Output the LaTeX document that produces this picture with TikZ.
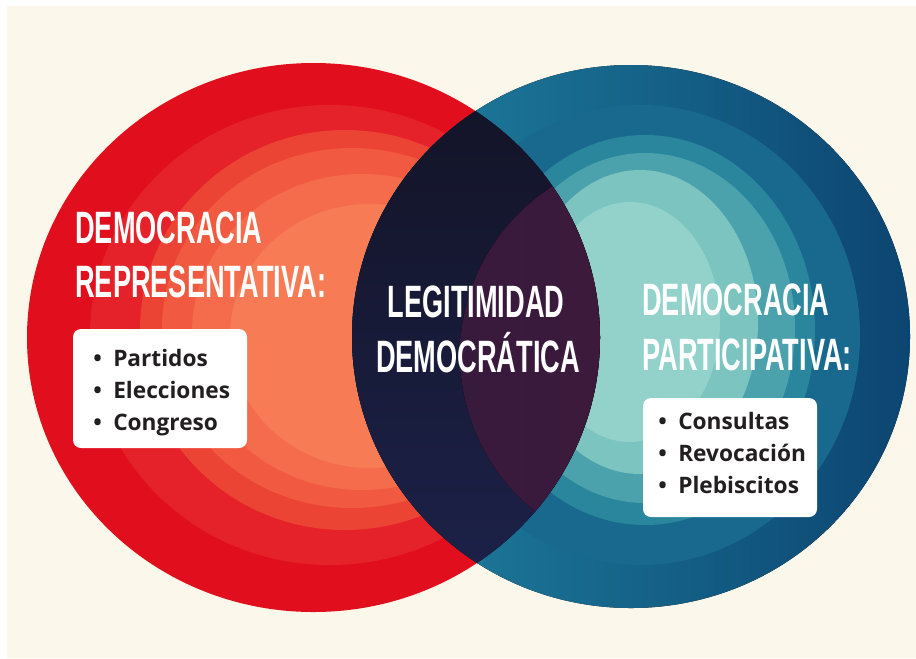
\documentclass[tikz,border=0pt]{standalone}
\usepackage{fontspec}
\newfontfamily\titlefont[FakeStretch=0.6]{Liberation Sans}
\newfontfamily\listfont{Open Sans}
\definecolor{cream}{HTML}{FBF7EA}
\definecolor{rA}{HTML}{E10F1D}
\definecolor{rB}{HTML}{E5222A}
\definecolor{rC}{HTML}{EC4434}
\definecolor{rD}{HTML}{F15A40}
\definecolor{rE}{HTML}{F46C4C}
\definecolor{rF}{HTML}{F77C56}
\definecolor{bL}{HTML}{1F82A0}
\definecolor{bR}{HTML}{0C4571}
\definecolor{bB}{HTML}{19698F}
\definecolor{bC}{HTML}{2A869C}
\definecolor{bD}{HTML}{4BA1AC}
\definecolor{bE}{HTML}{7CC4BF}
\definecolor{bF}{HTML}{92D2CA}
\definecolor{lensT}{HTML}{131428}
\definecolor{lensB}{HTML}{1C2148}
\definecolor{plumL}{HTML}{381A3D}
\definecolor{plumR}{HTML}{42193A}
\definecolor{textdark}{HTML}{231F20}
\begin{document}
\begin{tikzpicture}[x=0.75pt,y=-0.75pt,
  title/.style={font=\titlefont\bfseries\fontsize{34}{34}\selectfont, text=white, inner sep=0},
  item/.style={font=\listfont\bfseries\fontsize{17}{17}\selectfont, text=textdark, inner sep=0, anchor=base west},
  listbox/.style={fill=white, rounded corners=6}]
\useasboundingbox (0,0) rectangle (916,658);
\fill[white] (0,0) rectangle (916,658);
\fill[cream] (7,6) rectangle (916,658);
% red circle and its layers
\fill[rA] (313.5,337.5) ellipse [x radius=286.5, y radius=274.5];
\fill[rB] (330,335) ellipse [x radius=240, y radius=230];
\fill[rC] (345,330) ellipse [x radius=205, y radius=200];
\fill[rD] (352,328) ellipse [x radius=190, y radius=180];
\fill[rE] (362,332) ellipse [x radius=170, y radius=158];
\fill[rF] (370,336) ellipse [x radius=140, y radius=132];
% blue circle and its layers
\fill[left color=bL, right color=bR] (631,336.5) ellipse [x radius=279, y radius=271.5];
\fill[bB] (640,335) ellipse [x radius=220, y radius=230];
\fill[bC] (645,330) ellipse [x radius=170, y radius=195];
\fill[bD] (645,328) ellipse [x radius=150, y radius=175];
\fill[bE] (640,322) ellipse [x radius=118, y radius=152];
\fill[bF] (630,322) ellipse [x radius=90, y radius=120];
% lens
\begin{scope}
  \clip (313.5,337.5) ellipse [x radius=286.5, y radius=274.5];
  \clip (631,336.5) ellipse [x radius=279, y radius=271.5];
  \fill[top color=lensT, bottom color=lensB] (340,100) rectangle (610,575);
  \fill[left color=plumL, right color=plumR] (660,355) circle [radius=200];
\end{scope}
% titles
\node[title, anchor=base west] (lt1) at (75,243) {DEMOCRACIA};
\node[title, anchor=base west] (lt2) at (75,297) {REPRESENTATIVA:};
\node[title, anchor=base] (ct1) at (476,317) {LEGITIMIDAD};
\node[title, anchor=base] (ct2) at (478,372) {DEMOCRÁTICA};
\node[title, anchor=base west] (rt1) at (642,315) {DEMOCRACIA};
\node[title, anchor=base west] (rt2) at (642,370) {PARTICIPATIVA:};
% lists
\path[listbox] (73,329) rectangle (247,448);
\node[item] (l1) at (93,366) {\makebox[15pt][l]{•}Partidos};
\node[item] (l2) at (93,398) {\makebox[15pt][l]{•}Elecciones};
\node[item] (l3) at (93,430) {\makebox[15pt][l]{•}Congreso};
\path[listbox] (643,398) rectangle (817,517);
\node[item] (r1) at (658,429) {\makebox[15pt][l]{•}Consultas};
\node[item] (r2) at (658,461) {\makebox[15pt][l]{•}Revocación};
\node[item] (r3) at (658,493) {\makebox[15pt][l]{•}Plebiscitos};
\end{tikzpicture}
\end{document}
